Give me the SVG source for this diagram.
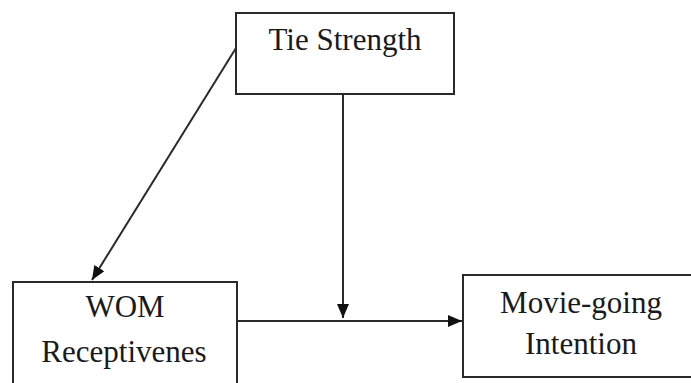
<svg xmlns="http://www.w3.org/2000/svg" width="691" height="383" viewBox="0 0 691 383">
<defs>
<style>
.box{fill:#fff;stroke:#2a2a2a;stroke-width:2}
.lbl{font-family:"Liberation Serif","Times New Roman",serif;font-size:31px;fill:#1a1a1a;text-anchor:middle}
.ln{stroke:#2a2a2a;stroke-width:2;fill:none}
</style>
<marker id="ah" viewBox="0 0 14 12" refX="14" refY="6" markerWidth="14" markerHeight="12" markerUnits="userSpaceOnUse" orient="auto">
<path d="M0,0 L14,6 L0,12 Z" fill="#111"/>
</marker>
</defs>
<rect width="691" height="383" fill="#fff"/>
<g id="tie">
<rect class="box" x="236" y="13" width="218" height="81"/>
<text class="lbl" x="345" y="50">Tie Strength</text>
</g>
<g id="wom">
<rect class="box" x="13" y="282" width="224" height="110"/>
<text class="lbl" x="125" y="317">WOM</text>
<text class="lbl" x="124" y="362">Receptivenes</text>
</g>
<g id="movie">
<rect class="box" x="463" y="275" width="240" height="102"/>
<text class="lbl" x="581" y="313">Movie-going</text>
<text class="lbl" x="581" y="354">Intention</text>
</g>
<g id="connectors">
<line class="ln" x1="236" y1="48" x2="92" y2="280" marker-end="url(#ah)"/>
<line class="ln" x1="343" y1="94" x2="343" y2="318" marker-end="url(#ah)"/>
<line class="ln" x1="237" y1="321" x2="462" y2="321" marker-end="url(#ah)"/>
</g>
</svg>
